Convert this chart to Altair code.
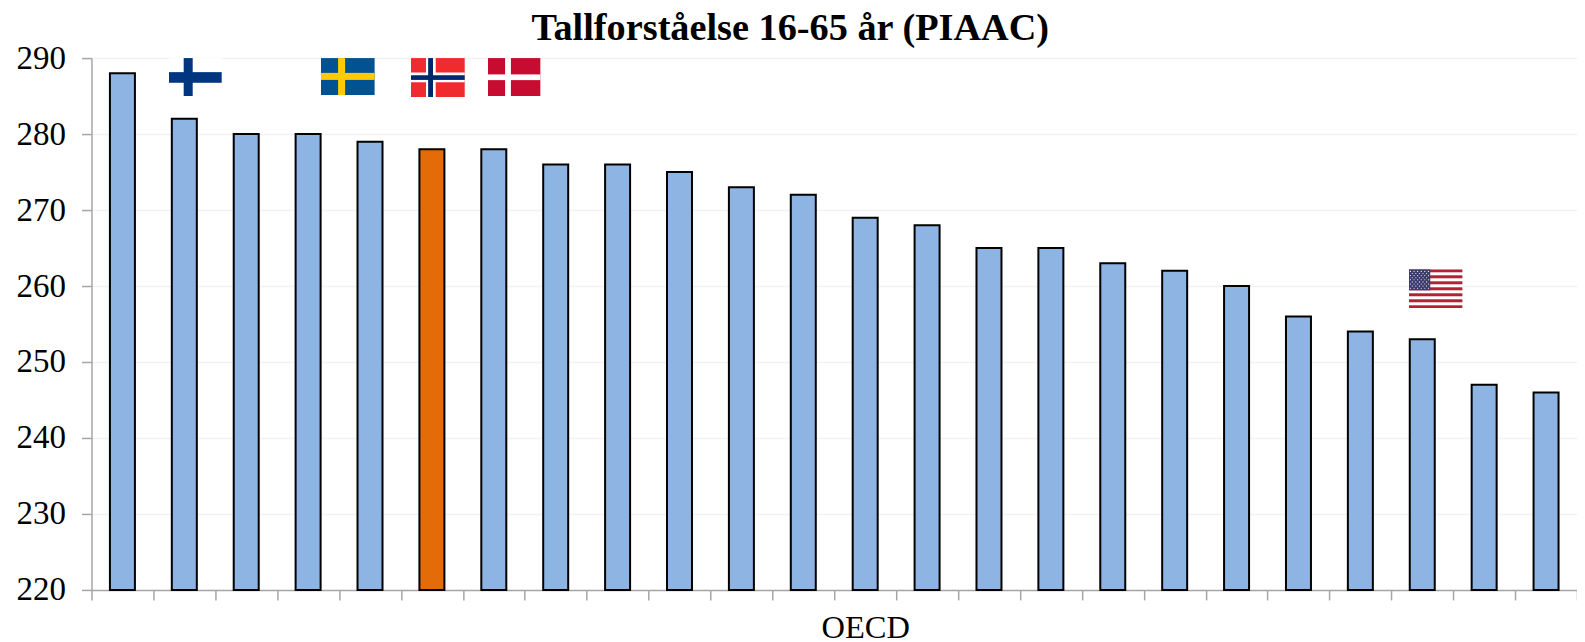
import urllib.parse
import altair as alt
import pandas as pd

values = [288, 282, 280, 280, 279, 278, 278, 276, 276, 275, 273, 272,
          269, 268, 265, 265, 263, 262, 260, 256, 254, 253, 247, 246]
positions = list(range(1, 25))
groups = ["other"] * 24
groups[5] = "Norge"
label_position = 13
x_label = "OECD"
y_ticks = [220, 230, 240, 250, 260, 270, 280, 290]
y_floor = 220
y_ceiling = 290


def cross(w, h, bg, layers):
    s = f'<svg xmlns="http://www.w3.org/2000/svg" width="{w}" height="{h}" viewBox="0 0 {w} {h}" preserveAspectRatio="none">'
    s += f'<rect width="{w}" height="{h}" fill="{bg}"/>'
    for col, (vx0, vx1), (hy0, hy1) in layers:
        s += f'<rect x="{vx0*w:.2f}" width="{(vx1-vx0)*w:.2f}" height="{h}" fill="{col}"/>'
        s += f'<rect y="{hy0*h:.2f}" height="{(hy1-hy0)*h:.2f}" width="{w}" fill="{col}"/>'
    return s + "</svg>"


def usa(w, h):
    s = f'<svg xmlns="http://www.w3.org/2000/svg" width="{w}" height="{h}" viewBox="0 0 {w} {h}" preserveAspectRatio="none">'
    s += f'<rect width="{w}" height="{h}" fill="#ffffff"/>'
    sh = h / 13
    for i in range(0, 13, 2):
        s += f'<rect y="{i*sh:.2f}" width="{w}" height="{sh:.2f}" fill="#b22234"/>'
    cw, ch = w * 0.4, sh * 7
    s += f'<rect width="{cw:.2f}" height="{ch:.2f}" fill="#3c3b6e"/>'
    for r in range(9):
        n = 6 if r % 2 == 0 else 5
        off = 0.5 if r % 2 == 0 else 1.0
        for c in range(n):
            s += f'<circle cx="{(c+off)*cw/6:.2f}" cy="{(r+1)*ch/10:.2f}" r="0.55" fill="#ffffff"/>'
    return s + "</svg>"


def uri(svg):
    return "data:image/svg+xml," + urllib.parse.quote(svg)


flag_names = ["Finland", "Sverige", "Norge", "Danmark", "USA"]
flag_band_x = [1.25, 3.705, 5.16, 6.40, 21.28]
flag_top_value = [290, 290, 290, 290, 262.2]
flag_w = [53, 54, 54, 53, 54]
flag_h = [38, 37, 39, 38, 39]
flag_svg = [
    cross(53, 38, "#ffffff", [("#003580", (0.28, 0.45), (0.37, 0.65))]),
    cross(54, 37, "#005293", [("#fecb00", (0.32, 0.45), (0.40, 0.59))]),
    cross(54, 39, "#ef2b2d", [("#ffffff", (0.28, 0.46), (0.37, 0.62)),
                              ("#002868", (0.32, 0.41), (0.44, 0.56))]),
    cross(53, 38, "#c60c30", [("#ffffff", (0.33, 0.44), (0.43, 0.58))]),
    usa(54, 39),
]

df = pd.DataFrame({"pos": positions, "value": values, "group": groups, "base": [y_floor] * 24})

axis_col = "#a6a6a6"
font = "Liberation Serif"
y_scale = alt.Scale(domain=[y_floor, y_ceiling], nice=False, zero=False)

bars = alt.Chart(df).mark_bar(stroke="#000000", strokeWidth=2, size=25).encode(
    x=alt.X("pos:O", sort=positions,
            scale=alt.Scale(paddingInner=0, paddingOuter=0, round=False),
            axis=alt.Axis(title=None, labelAngle=0, tickBand="extent",
                          labelExpr=f"datum.value == {label_position} ? '{x_label}' : ''",
                          labelFont=font, labelFontSize=32.5, labelColor="#000000",
                          labelPadding=12, domainColor=axis_col, domainWidth=1.5,
                          tickColor=axis_col, tickWidth=1.5, tickSize=10, grid=False)),
    y=alt.Y("value:Q", scale=y_scale,
            axis=alt.Axis(title=None, values=y_ticks, labelFont=font, labelFontSize=33,
                          labelColor="#000000", labelPadding=16, domainColor=axis_col,
                          domainWidth=1.5, tickColor=axis_col, tickWidth=1.5, tickSize=10,
                          grid=True, gridColor="#f2f2f2", gridWidth=1.5)),
    y2="base:Q",
    color=alt.Color("group:N", legend=None,
                    scale=alt.Scale(domain=["other", "Norge"], range=["#8db4e2", "#e36c09"])),
)

flag_layers = []
for i, name in enumerate(flag_names):
    d = pd.DataFrame({"name": [name], "bx": [flag_band_x[i]], "top": [flag_top_value[i]], "img": [uri(flag_svg[i])]})
    flag_layers.append(
        alt.Chart(d).mark_image(width=flag_w[i], height=flag_h[i], align="left",
                                baseline="top", aspect=False).encode(
            x=alt.X("bx:Q", scale=alt.Scale(domain=[0, 24]), axis=None),
            y=alt.Y("top:Q", scale=y_scale),
            url="img:N",
        )
    )

chart = alt.layer(bars, *flag_layers).resolve_scale(x="independent").properties(
    width=1486,
    height=532,
    autosize=alt.AutoSizeParams(type="none"),
    padding={"left": 83.5, "top": 50, "right": 0, "bottom": 60},
    background="#ffffff",
    title=alt.TitleParams("Tallforståelse 16-65 år (PIAAC)", font=font, fontSize=38.3,
                          fontWeight="bold", color="#000000", anchor="middle",
                          dx=-44, offset=-6),
).configure_view(stroke=None)

chart.save("out.html", embed_options={"renderer": "svg", "actions": False})
